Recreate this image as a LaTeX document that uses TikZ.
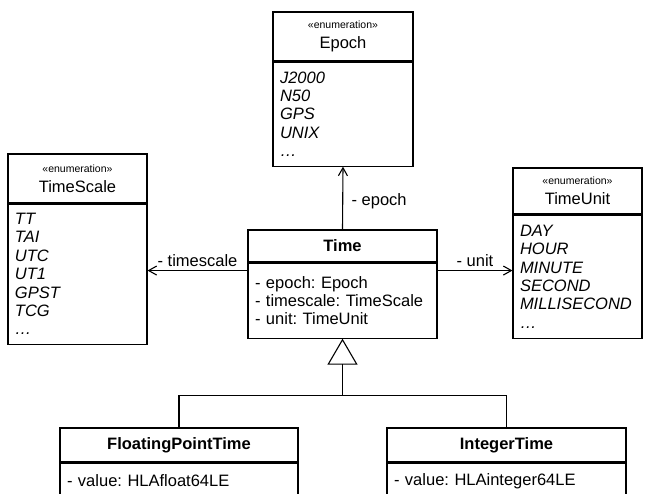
\documentclass[tikz,border=0pt]{standalone}
\usepackage{fontspec}
\setmainfont{Liberation Sans}
\usetikzlibrary{arrows.meta,positioning}
\frenchspacing

\newcommand{\stereo}[1]{{\fontsize{10.5}{12}\selectfont«#1»}}

\tikzset{
  classhead/.style={draw,line width=1.1pt,inner sep=0pt,align=center},
  classbody/.style={draw,line width=1.1pt,inner xsep=7pt,inner ysep=0pt,align=left,below=0pt of #1},
  assoc/.style={line width=1.1pt,-{Straight Barb[length=8pt,width=9pt]}},
  inherit/.style={line width=1.1pt,-{Triangle[open,length=26pt,width=30pt]}},
}

\begin{document}
\begin{tikzpicture}[x=1pt,y=-1pt,font=\fontsize{16.5}{18.4}\selectfont]
\useasboundingbox (0,0) rectangle (651,494);
\clip (0,0) rectangle (651,494);

% enumerations
\node[classhead,minimum width=140pt,minimum height=49pt] (epoch) at (343,36.5) {\stereo{enumeration}\\[2pt]Epoch};
\node[classbody=epoch,text width=126pt,minimum height=104pt] (epochlist) {\itshape J2000\\N50\\GPS\\UNIX\\\dots};

\node[classhead,minimum width=139pt,minimum height=49pt] (scale) at (77.5,178.5) {\stereo{enumeration}\\[2pt]TimeScale};
\node[classbody=scale,text width=125pt,minimum height=140pt] (scalelist) {\itshape TT\\TAI\\UTC\\UT1\\GPST\\TCG\\\dots};

\node[classhead,minimum width=129pt,minimum height=46pt] (unit) at (577.5,191) {\stereo{enumeration}\\[2pt]TimeUnit};
\node[classbody=unit,text width=115pt,minimum height=123pt] (unitlist) {\itshape DAY\\HOUR\\MINUTE\\SECOND\\MILLISECOND\\\dots};

% the time class
\node[classhead,minimum width=189pt,minimum height=32pt] (time) at (342.5,246) {\bfseries Time};
\node[classbody=time,text width=175pt,minimum height=75pt] (timeattr) {- epoch: Epoch\\- timescale: TimeScale\\- unit: TimeUnit};

% subclasses
\node[classhead,minimum width=238pt,minimum height=34pt] (fpt) at (179,445) {\bfseries FloatingPointTime};
\node[classbody=fpt,text width=224pt,minimum height=36pt] (fptattr) {- value: HLAfloat64LE};

\node[classhead,minimum width=239pt,minimum height=34pt] (it) at (506.5,445) {\bfseries IntegerTime};
\node[classbody=it,text width=225pt,minimum height=36pt] (itattr) {- value: HLAinteger64LE};

% associations
\draw[assoc] (time.north) -- (epochlist.south) node[pos=.45,right=5pt] {- epoch};
\coordinate (scale from) at ([yshift=-8pt]timeattr.north west);
\draw[assoc] (scale from) -- (scale from -| scalelist.east) node[midway,above] {- timescale};
\coordinate (unit from) at ([yshift=-8pt]timeattr.north east);
\draw[assoc] (unit from) -- (unit from -| unitlist.west) node[midway,above] {- unit};

% generalization
\coordinate (bus) at ([yshift=-57pt]timeattr.south);
\draw[inherit] (bus) -- (timeattr.south);
\draw[line width=1.1pt] (fpt.north) |- (bus) -| (it.north);
\end{tikzpicture}
\end{document}
